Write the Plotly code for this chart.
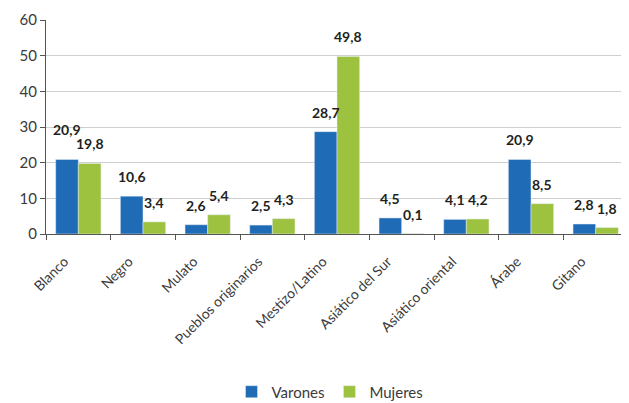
import plotly.graph_objects as go

categorias = ["Blanco", "Negro", "Mulato", "Pueblos originarios", "Mestizo/Latino",
              "Asiático del Sur", "Asiático oriental", "Árabe", "Gitano"]
varones = [20.9, 10.6, 2.6, 2.5, 28.7, 4.5, 4.1, 20.9, 2.8]
mujeres = [19.8, 3.4, 5.4, 4.3, 49.8, 0.1, 4.2, 8.5, 1.8]
y_ticks = [0, 10, 20, 30, 40, 50, 60]

def fmt(v):
    return f"{v:.1f}".replace(".", ",")

FONT = "Lato, 'Open Sans', sans-serif"
LABEL_FONT = dict(family=FONT, size=14, color="#231F20", weight="bold")

# page body has an 8px margin; size the figure to fill the visible window
W, H = 621, 395
ML, MR, MT, MB = 38, 1, 12, 169
YMAX = 60
plot_w = W - ML - MR
plot_h = H - MT - MB
cat_w = plot_w / len(categorias)
BARGAP = 0.3
bar_w = cat_w * (1 - BARGAP) / 2
px_per_unit = plot_h / YMAX

fig = go.Figure()
fig.add_trace(go.Bar(x=categorias, y=varones, name="Varones", marker_color="#1F6BB5"))
fig.add_trace(go.Bar(x=categorias, y=mujeres, name="Mujeres", marker_color="#9DC23F"))

# value labels, lifted above each bar; the taller one is lifted further
# when two neighbouring labels would collide
CHAR_W = 7.6
LABEL_H = 14
BASE_SHIFT = 9
for cat, v, m in zip(categorias, varones, mujeres):
    tv, tm = fmt(v), fmt(m)
    need_w = (len(tv) + len(tm)) / 2 * CHAR_W
    dy = abs(v - m) * px_per_unit
    extra_v = extra_m = 0
    if need_w > bar_w + 1 and dy < LABEL_H:
        if v >= m:
            extra_v = LABEL_H - dy
        else:
            extra_m = LABEL_H - dy
    for val, txt, sx, extra in ((v, tv, -bar_w / 2, extra_v), (m, tm, bar_w / 2, extra_m)):
        fig.add_annotation(x=cat, y=val, text=txt, showarrow=False,
                           xanchor="center", yanchor="bottom",
                           xshift=sx, yshift=BASE_SHIFT + extra,
                           font=LABEL_FONT)

fig.update_layout(
    width=W, height=H,
    margin=dict(l=ML, r=MR, t=MT, b=MB, autoexpand=False),
    paper_bgcolor="white", plot_bgcolor="white",
    barmode="group", bargap=BARGAP, bargroupgap=0,
    font=dict(family=FONT, size=14, color="#3A3A3A"),
    legend=dict(orientation="h", x=0.488, xanchor="center", yref="container",
                y=0.028, yanchor="middle",
                font=dict(family=FONT, size=15, color="#3A3A3A"),
                traceorder="normal"),
    showlegend=True,
)
fig.update_xaxes(tickangle=-45, showline=True, linecolor="#555555", linewidth=1,
                 ticks="outside", tickson="boundaries", ticklen=5, tickcolor="#555555",
                 ticklabelstandoff=13, ticklabelshift=-14,
                 tickfont=dict(family=FONT, size=14, color="#3A3A3A"), automargin=False)
fig.update_yaxes(range=[0, YMAX], tickvals=y_ticks, showgrid=True, gridcolor="#CFCFCF",
                 gridwidth=1, showline=True, linecolor="#555555", linewidth=1,
                 ticks="outside", ticklen=5, tickcolor="#555555", zeroline=False,
                 tickfont=dict(family=FONT, size=15, color="#3A3A3A"), automargin=False)
fig.add_shape(type="line", xref="paper", yref="paper", x0=1, x1=1, y0=0, y1=1,
              line=dict(color="#CFCFCF", width=1))

fig.write_html("out.html")
